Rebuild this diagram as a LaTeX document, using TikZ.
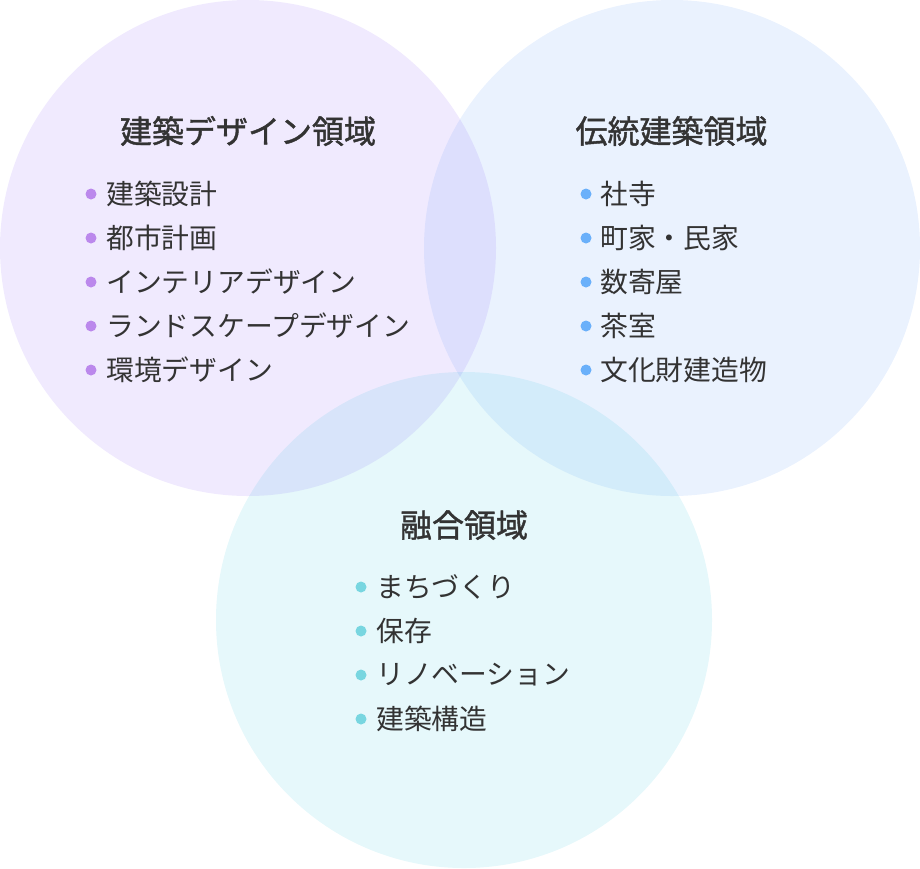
\documentclass[tikz,border=0pt]{standalone}
\usepackage{fontspec}
\newfontfamily\jp{Noto Sans CJK JP}
\newfontfamily\jpm[FakeBold=1.3]{Noto Sans CJK JP}
\definecolor{cpurple}{HTML}{8B5CF6}
\definecolor{cblue}{HTML}{3B82F6}
\definecolor{ccyan}{HTML}{06B6D4}
\definecolor{bpurple}{HTML}{BB88EC}
\definecolor{bblue}{HTML}{6AB0FA}
\definecolor{bcyan}{HTML}{78D6E0}
\definecolor{txt}{HTML}{333333}
\tikzset{
  area/.style={circle, minimum size=496pt, inner sep=0pt, draw=none},
  ttl/.style={font=\jpm\fontsize{32}{36}\selectfont, text=txt, inner sep=0pt},
  itm/.style={font=\jp\fontsize{27.8}{32}\selectfont, text=txt, inner sep=0pt, anchor=west},
  dot/.style={circle, inner sep=0pt, minimum size=11pt}
}
\begin{document}
\begin{tikzpicture}[x=1pt,y=-1pt]
\useasboundingbox (0,0) rectangle (920,868);
\node[area, fill=cpurple, fill opacity=0.13] (c1) at (248,248) {};
\node[area, fill=cblue, fill opacity=0.105] (c2) at (672,248) {};
\node[area, fill=ccyan, fill opacity=0.10] (c3) at (464,620) {};
% left
\node[ttl] (t1) at (248,131) {建築デザイン領域};
\foreach \i/\s in {0/建築設計,1/都市計画,2/インテリアデザイン,3/ランドスケープデザイン,4/環境デザイン}{
  \node[dot, fill=bpurple] (d1\i) at (91,194+44*\i) {};
  \node[itm] (l1\i) at (106,194+44*\i) {\s};
}
% right
\node[ttl] (t2) at (671.5,131) {伝統建築領域};
\foreach \i/\s in {0/社寺,1/町家・民家,2/数寄屋,3/茶室,4/文化財建造物}{
  \node[dot, fill=bblue] (d2\i) at (586,194+44*\i) {};
  \node[itm] (l2\i) at (600,194+44*\i) {\s};
}
% bottom
\node[ttl] (t3) at (464,525) {融合領域};
\foreach \i/\s in {0/まちづくり,1/保存,2/リノベーション,3/建築構造}{
  \node[dot, fill=bcyan] (d3\i) at (361,587+44*\i) {};
  \node[itm] (l3\i) at (376,587+44*\i) {\s};
}
\end{tikzpicture}
\end{document}
